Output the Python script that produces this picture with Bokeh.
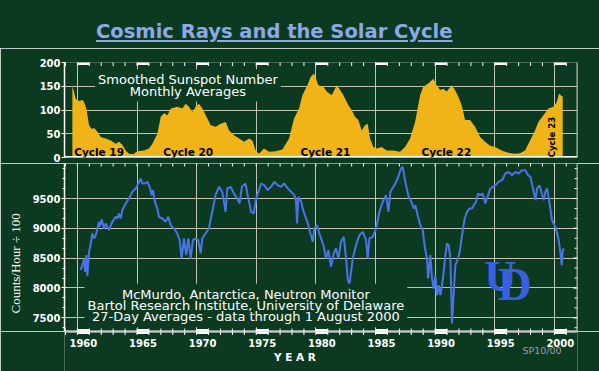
import math
from bokeh.plotting import figure
from bokeh.models import (Range1d, FixedTicker, Label, Div, Span, Title)
from bokeh.core.properties import value
from bokeh.layouts import column
from bokeh.embed import file_html
from bokeh.resources import INLINE

# ---------------- data ----------------
TITLE = "Cosmic Rays and the Solar Cycle"

ss_years = [1959.58, 1959.72, 1959.86, 1960.14, 1960.42, 1960.56, 1960.75, 1960.98,
            1961.20, 1961.40, 1961.68, 1961.96, 1962.38, 1962.80, 1963.21, 1963.49,
            1963.77, 1964.05, 1964.33, 1964.67, 1965.03, 1965.59, 1966.01, 1966.29,
            1966.71, 1966.99, 1967.27, 1967.55, 1967.83, 1968.39, 1968.80, 1969.08,
            1969.36, 1969.64, 1969.92, 1970.20, 1970.48, 1970.90, 1971.18, 1971.60,
            1972.02, 1972.44, 1972.72, 1973.14, 1973.56, 1973.98, 1974.40, 1974.68,
            1974.95, 1975.23, 1975.65, 1976.07, 1976.63, 1977.19, 1977.75, 1978.17,
            1978.59, 1978.87, 1979.29, 1979.57, 1979.85, 1980.21, 1980.63, 1980.91,
            1981.33, 1981.75, 1982.03, 1982.31, 1982.73, 1983.00, 1983.28, 1983.56,
            1983.84, 1984.12, 1984.35, 1984.54, 1984.82, 1985.10, 1985.52, 1985.94,
            1986.50, 1987.06, 1987.48, 1987.90, 1988.32, 1988.74, 1989.01, 1989.43,
            1989.85, 1990.13, 1990.41, 1990.69, 1990.97, 1991.39, 1991.67, 1991.95,
            1992.23, 1992.51, 1992.93, 1993.35, 1993.77, 1994.19, 1994.61, 1995.03,
            1995.58, 1996.14, 1996.70, 1997.12, 1997.54, 1997.96, 1998.38, 1998.66,
            1999.08, 1999.50, 1999.92, 2000.20, 2000.39, 2000.70]
ss_values = [150, 139, 123, 119, 121, 117, 103, 68,
             60, 62, 54, 43, 40, 36, 29, 33,
             27, 15, 8, 7, 13, 15, 19, 29,
             50, 86, 93, 89, 103, 107, 103, 113,
             107, 96, 107, 113, 103, 82, 68, 65,
             71, 75, 57, 47, 40, 33, 40, 36,
             15, 8, 19, 12, 13, 17, 40, 82,
             103, 131, 152, 170, 177, 152, 149, 139,
             131, 152, 142, 131, 110, 100, 86, 79,
             57, 68, 71, 40, 22, 19, 22, 15,
             15, 12, 22, 40, 75, 131, 149, 156,
             166, 152, 142, 145, 139, 152, 142, 128,
             110, 79, 79, 65, 43, 33, 25, 22,
             15, 10, 8, 9, 15, 36, 57, 75,
             89, 103, 107, 117, 134, 128]

nm_years = [1960.28, 1960.42, 1960.56, 1960.64, 1960.75, 1960.84, 1960.98, 1961.12,
            1961.26, 1961.40, 1961.54, 1961.68, 1961.82, 1961.87, 1962.04, 1962.23,
            1962.37, 1962.65, 1962.93, 1963.21, 1963.35, 1963.49, 1963.63, 1963.77,
            1964.05, 1964.33, 1964.61, 1964.89, 1965.11, 1965.31, 1965.45, 1965.67,
            1965.87, 1966.06, 1966.23, 1966.34, 1966.51, 1966.70, 1966.84, 1967.12,
            1967.40, 1967.63, 1967.82, 1968.10, 1968.38, 1968.58, 1968.74, 1968.94,
            1969.13, 1969.30, 1969.50, 1969.69, 1969.92, 1970.14, 1970.34, 1970.47,
            1970.75, 1971.03, 1971.31, 1971.59, 1971.87, 1972.15, 1972.43, 1972.57,
            1972.85, 1973.13, 1973.40, 1973.60, 1973.80, 1974.10, 1974.28, 1974.45,
            1974.56, 1974.79, 1974.98, 1975.18, 1975.40, 1975.68, 1975.96, 1976.24,
            1976.52, 1976.80, 1977.08, 1977.36, 1977.64, 1977.92, 1978.20, 1978.34,
            1978.42, 1978.53, 1978.76, 1978.98, 1979.18, 1979.37, 1979.54, 1979.74,
            1979.87, 1980.10, 1980.29, 1980.49, 1980.66, 1980.85, 1981.05, 1981.27,
            1981.50, 1981.69, 1981.89, 1982.11, 1982.34, 1982.53, 1982.67, 1982.81,
            1982.95, 1983.09, 1983.37, 1983.65, 1983.93, 1984.21, 1984.35, 1984.49,
            1984.77, 1985.05, 1985.33, 1985.61, 1985.88, 1986.08, 1986.25, 1986.58,
            1986.86, 1987.14, 1987.28, 1987.50, 1987.78, 1988.01, 1988.20, 1988.34,
            1988.57, 1988.76, 1988.96, 1989.13, 1989.32, 1989.41, 1989.60, 1989.74,
            1989.88, 1990.02, 1990.16, 1990.30, 1990.44, 1990.58, 1990.72, 1990.86,
            1991.00, 1991.14, 1991.28, 1991.42, 1991.56, 1991.70, 1991.92, 1992.06,
            1992.26, 1992.48, 1992.68, 1992.87, 1993.10, 1993.24, 1993.43, 1993.60,
            1993.79, 1993.99, 1994.21, 1994.44, 1994.63, 1994.83, 1995.05, 1995.33,
            1995.61, 1995.89, 1996.17, 1996.45, 1996.73, 1997.01, 1997.29, 1997.57,
            1997.79, 1997.99, 1998.27, 1998.41, 1998.55, 1998.74, 1998.91, 1999.11,
            1999.25, 1999.38, 1999.58, 1999.80, 2000.08, 2000.31, 2000.42, 2000.53,
            2000.62, 2000.70, 2000.80]
nm_values = [8300, 8383, 8494, 8271, 8550, 8200, 8606, 8746,
             8913, 8830, 8885, 8997, 9109, 9030, 9148, 8997,
             9081, 8969, 9109, 9193, 9165, 9249, 9165, 9304,
             9416, 9500, 9612, 9668, 9751, 9835, 9751, 9751,
             9779, 9696, 9556, 9640, 9444, 9332, 9193, 9165,
             9109, 9193, 9053, 8997, 8913, 8802, 8494, 8830,
             8550, 8830, 8494, 8802, 8830, 8802, 8578, 8830,
             8913, 8997, 9277, 9556, 9696, 9612, 9277, 9668,
             9696, 9584, 9500, 9420, 9700, 9750, 9556, 9400,
             9277, 9249, 9500, 9612, 9751, 9723, 9640, 9696,
             9779, 9723, 9696, 9751, 9668, 9612, 9556, 9444,
             9081, 9528, 9444, 9277, 9165, 9053, 8913, 8774,
             8997, 9053, 8913, 8802, 8690, 8494, 8634, 8355,
             8578, 8662, 8494, 8774, 8857, 8494, 8159, 8047,
             8271, 8494, 8718, 8885, 8941, 8802, 8494, 8830,
             8857, 8997, 9277, 9444, 9556, 9277, 9612, 9723,
             9835, 10003, 10031, 9779, 9528, 9444, 9332, 9388,
             9193, 9053, 8969, 8690, 8494, 8159, 8550, 8159,
             7991, 8215, 7880, 8047, 7880, 8047, 8271, 8550,
             8746, 8718, 8494, 7405, 7936, 8383, 8494, 8606,
             8885, 9165, 9277, 9332, 9332, 9388, 9444, 9584,
             9556, 9584, 9416, 9556, 9668, 9696, 9723, 9779,
             9807, 9919, 9947, 9891, 9947, 9919, 9975, 9975,
             9891, 9863, 9612, 9472, 9668, 9723, 9612, 9472,
             9612, 9668, 9444, 9137, 9025, 8857, 8718, 8550,
             8383, 8634, 8662]

label_years = list(range(1960, 2001, 5))
year_labels = [str(y) for y in label_years]
tick_years = list(range(1959, 2002))
ss_ticks = [0, 50, 100, 150, 200]
ss_grid = [50, 100, 150]
nm_ticks = [7500, 8000, 8500, 9000, 9500]
nm_minor = [7500 + k * 500 / 3 for k in range(-1, 16)]
cycle_names = ["Cycle 19", "Cycle 20", "Cycle 21", "Cycle 22"]
cycle_x = [1961.82, 1969.29, 1980.80, 1990.94]

# ---------------- style ----------------
BG = "#0c3a21"
GOLD = "#f0b418"
BLUE = "#4b73e8"
GRID = "#c0c4b0"
SANS = "DejaVu Sans"
W = 599
X0, X1 = 1958.92, 2001.94
NM_LO, NM_HI = 7270, 10087

xr = Range1d(X0, X1)


def lab(p, x, y, text, size, color="white", bold=False, font=SANS,
        align="center", baseline="middle", angle=0.0, **kw):
    p.add_layout(Label(x=x, y=y, text=text, text_font=font,
                       text_font_size=f"{size}px", text_color=color,
                       text_font_style="bold" if bold else "normal",
                       text_align=align, text_baseline=baseline,
                       angle=angle, **kw))


def style_left(ax, ticks, minor=None):
    ax.ticker = FixedTicker(ticks=ticks, minor_ticks=minor or [])
    ax.axis_line_color = "white"
    ax.axis_line_width = 1.5
    ax.major_tick_line_color = "white"
    ax.major_tick_out = 3
    ax.major_tick_in = 1
    ax.minor_tick_line_color = "white" if minor else None
    ax.minor_tick_out = 2
    ax.minor_tick_in = 1
    ax.major_label_text_color = "white"
    ax.major_label_text_font = SANS
    ax.major_label_text_font_style = "bold"
    ax.major_label_text_font_size = "10px"
    ax.major_label_standoff = 1


# ---------------- title ----------------
title_html = ('<div style="font-family:\'DejaVu Sans\',sans-serif;font-weight:bold;'
              'font-size:19.5px;color:#8ca8e8;text-decoration:underline;'
              'text-decoration-thickness:2px;text-underline-offset:2px;'
              'white-space:nowrap;padding:21px 0 0 96px;line-height:1.15;">'
              + TITLE + '</div>')
div = Div(text=title_html, width=W, height=48,
          styles={"background-color": BG, "margin": "0", "padding": "0"})

# ---------------- top panel: sunspots ----------------
p1 = figure(width=W, height=115, x_range=xr, y_range=Range1d(0, 200),
            x_axis_location=None, min_border_left=64, min_border_right=22,
            min_border_top=14, min_border_bottom=6, toolbar_location=None,
            output_backend="svg", background_fill_color=BG, border_fill_color=BG)
p1.outline_line_color = None
p1.xgrid.ticker = FixedTicker(ticks=label_years)
p1.ygrid.ticker = FixedTicker(ticks=ss_grid)
p1.grid.grid_line_color = GRID
style_left(p1.yaxis[0], ss_ticks)

p1.varea(x=ss_years, y1=0, y2=ss_values, fill_color=GOLD)

p1.segment(x0=label_years, y0=[200] * len(label_years),
           x1=[y + 1 for y in label_years], y1=[200] * len(label_years),
           line_color="white", line_width=5)
p1.scatter(x=tick_years, y=[200] * len(tick_years), marker="dash",
           angle=math.pi / 2, size=7, line_color="white")
p1.add_layout(Span(location=0, dimension="width", line_color="white", line_width=3))
p1.add_layout(Span(location=X1, dimension="height", line_color=GRID, line_width=2))

for name, cx in zip(cycle_names, cycle_x):
    lab(p1, cx, 12.6, name, 10.5, color="black", bold=True)
lab(p1, 1999.83, 43, "Cycle 23", 8.5, color="black", bold=True, angle=math.pi / 2)

lab(p1, 1969.27, 151.6, "Smoothed Sunspot Number\nMonthly Averages", 13,
    text_line_height=0.75, background_fill_color=BG, padding=3)

# ---------------- bottom panel: neutron monitor ----------------
p2 = figure(width=W, height=168, x_range=xr, y_range=Range1d(NM_LO, NM_HI),
            x_axis_location=None, min_border_left=64, min_border_right=22,
            min_border_top=0, min_border_bottom=0, toolbar_location=None,
            output_backend="svg", background_fill_color=BG, border_fill_color=BG)
p2.outline_line_color = None
p2.xgrid.ticker = FixedTicker(ticks=label_years)
p2.ygrid.ticker = FixedTicker(ticks=nm_ticks)
p2.grid.grid_line_color = GRID
style_left(p2.yaxis[0], nm_ticks, nm_minor)

p2.add_layout(Title(text="Counts/Hour \u00f7 100", align="left", offset=18,
                    standoff=11, vertical_align="middle",
                    text_font="Liberation Serif", text_font_size="13px",
                    text_font_style="normal", text_color="white"), "left")

p2.scatter(x=tick_years, y=[NM_HI] * len(tick_years), marker="dash",
           angle=math.pi / 2, size=6, line_color="white")
p2.scatter(x=tick_years, y=[NM_LO] * len(tick_years), marker="dash",
           angle=math.pi / 2, size=6, line_color="white")
p2.segment(x0=label_years, y0=[NM_LO] * len(label_years),
           x1=[y + 1 for y in label_years], y1=[NM_LO] * len(label_years),
           line_color="white", line_width=5)
p2.scatter(x=[X1] * len(nm_ticks), y=nm_ticks, marker="dash", size=9,
           line_color="white")
p2.scatter(x=[X1] * len(nm_minor), y=nm_minor, marker="dash", size=6,
           line_color="white")
p2.add_layout(Span(location=NM_LO, dimension="width", line_color="white", line_width=2))
p2.add_layout(Span(location=X1, dimension="height", line_color=GRID, line_width=2))

p2.line(nm_years, nm_values, line_color=BLUE, line_width=2)

lab(p2, 1974.13, 7707,
    "McMurdo, Antarctica, Neutron Monitor\n"
    "Bartol Research Institute, University of Delaware\n"
    "27-Day Averages - data through 1 August 2000", 13,
    text_line_height=0.75, background_fill_color=BG, padding=3)

lab(p2, 1994.13, 8209, "U", 45, color="#3a5ee0", bold=True,
    font="Liberation Serif", align="left")
lab(p2, 1995.25, 8060, "D", 47, color="#3a5ee0", bold=True,
    font="Liberation Serif", align="left")

# ---------------- x-axis strip ----------------
p3 = figure(width=W, height=40, x_range=xr, y_range=Range1d(0, 40),
            x_axis_location=None, y_axis_location=None,
            min_border_left=64, min_border_right=22, min_border_top=0,
            min_border_bottom=0, toolbar_location=None, output_backend="svg",
            background_fill_color=BG, border_fill_color=BG)
p3.outline_line_color = None
p3.grid.visible = False
p3.add_layout(Span(location=40, dimension="width", line_color="white", line_width=2))
p3.segment(x0=label_years, y0=[40] * len(label_years),
           x1=[y + 1 for y in label_years], y1=[40] * len(label_years),
           line_color="white", line_width=5)
p3.scatter(x=tick_years, y=[40] * len(tick_years), marker="dash",
           angle=math.pi / 2, size=7, line_color="white")
p3.text(x=[y + 0.5 for y in label_years], y=[28.5] * len(label_years),
        text=year_labels, text_font=value(SANS), text_font_style="bold",
        text_font_size="10px", text_color="white", text_align="center",
        text_baseline="middle")
lab(p3, 1978.24, 14.7, "Y E A R", 10.5, bold=True)
lab(p3, 1998.97, 21, "SP10/00", 9.5, color="#9c9ca8")

layout = column(div, p1, p2, p3, spacing=0)
open("out.html", "w").write(file_html(layout, INLINE))
